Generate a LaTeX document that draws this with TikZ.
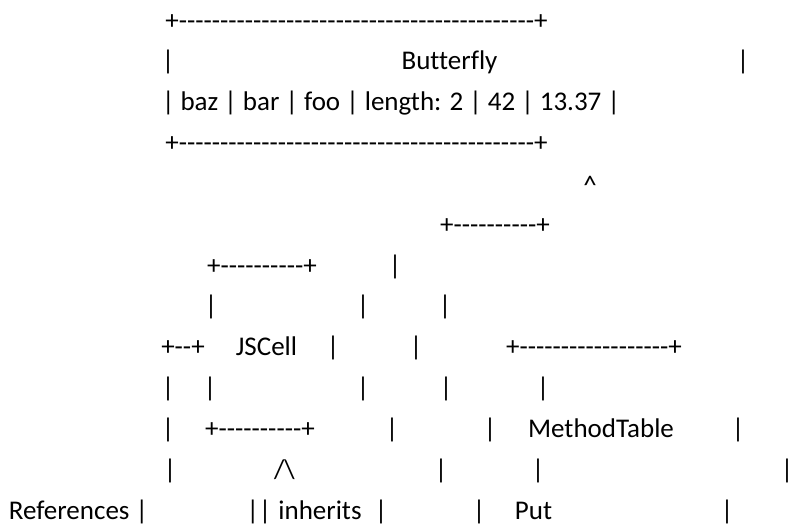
\documentclass[tikz,border=0pt]{standalone}
\usepackage{fontspec}
\setmainfont{Carlito}[Ligatures={TeXOff,CommonOff}]
\begin{document}
\begin{tikzpicture}[x=1pt,y=-1pt,
    every node/.style={anchor=base,inner sep=0pt,font=\fontsize{27}{33}\selectfont}]
  \useasboundingbox (0,0) rectangle (790,530);
  % butterfly block
  \draw
    (356.5,29) node (top){+-------------------------------------------+}
    (168,69.8) node (b1){|}
    (449.5,69.8) node (fly){Butterfly}
    (743,69.8) node (b2){|}
    (161.8,110.7) node[anchor=base west] (cells){| baz | bar | foo | length: 2 | 42 | 13.37 |}
    (356.5,151.5) node (bot){+-------------------------------------------+}
    (590,194) node (up){\textasciicircum};
  % cell, structure and method table
  \draw
    (495,233.2) node (sbox){+----------+}
    (262,274) node (ctop){+----------+}
    (395,274) node (s1){|}
    (211,314.8) node (c1){|}
    (363,314.8) node (c2){|}
    (445,314.8) node (s2){|}
    (183,355.7) node (ref){+--+}
    (266.5,355.7) node (cell){JSCell}
    (333,355.7) node (c3){|}
    (416,355.7) node (s3){|}
    (594,355.7) node (mtop){+------------------+}
    (168,396.5) node (r1){|}
    (210,396.5) node (c4){|}
    (363,396.5) node (c5){|}
    (446,396.5) node (s4){|}
    (543,396.5) node (m1){|}
    (168,437.3) node (r2){|}
    (260,437.3) node (cbot){+----------+}
    (392,437.3) node (s5){|}
    (490,437.3) node (m2){|}
    (601,437.3) node (mt){MethodTable}
    (738,437.3) node (m3){|}
    (170,478.2) node (r3){|}
    (284.5,478.2) node (inh){/\textbackslash}
    (441,478.2) node (s6){|}
    (538,478.2) node (m4){|}
    (787,478.2) node (m5){|};
  % bottom line
  \draw
    (78.5,519) node (refs){References |}
    (259,519) node (bars){||}
    (320,519) node (inhs){inherits}
    (381,519) node (s7){|}
    (479,519) node (m6){|}
    (533.5,519) node (put){Put}
    (727,519) node (m7){|};
\end{tikzpicture}
\end{document}
